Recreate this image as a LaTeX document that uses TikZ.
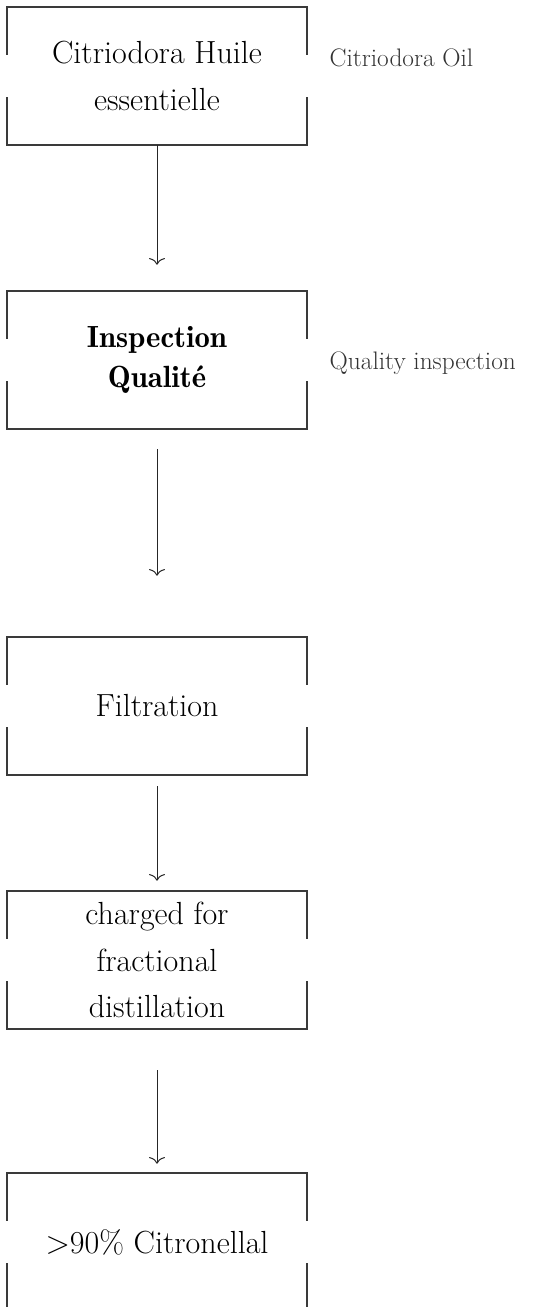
\documentclass[tikz,border=0pt]{standalone}
\usetikzlibrary{arrows.meta}
\definecolor{framegray}{HTML}{3A3A3A}
\definecolor{notegray}{HTML}{333333}
\tikzset{
  stage/.style={rectangle, minimum width=225pt, minimum height=103.5pt, inner sep=0pt,
    align=center, text=black, font=\fontsize{24}{35}\selectfont},
  note/.style={anchor=west, text=notegray, font=\fontsize{19}{23}\selectfont},
  frame/.style={draw=framegray, line width=1.5pt},
  flow/.style={draw=black!85, line width=0.75pt, -{To[length=5pt,width=12pt]}}
}
\begin{document}
\begin{tikzpicture}[x=0.75pt, y=-0.75pt]
            \useasboundingbox (0,0) rectangle (534,1307);
            \node[stage] (b1) at (157, 76) {Citriodora Huile\\essentielle};
            \node[stage, font=\fontsize{23}{30}\fontseries{b}\selectfont] (b2) at (157, 360) {Inspection\\Qualité};
            \node[stage] (b3) at (157, 706) {Filtration};
            \node[stage] (b4) at (157, 960) {charged for\\fractional\\distillation};
            \node[stage] (b5) at (157, 1242) {>90\% Citronellal};
            \node[note] (n1) at (325, 58) {Citriodora Oil};
            \node[note] (n2) at (325, 363) {Quality inspection};
            % open frames round each stage
            \foreach \b in {b1,b2,b3,b4,b5} {
              \draw[frame] ([yshift=-36pt]\b.north west) |- (\b.north east) -- ([yshift=-36pt]\b.north east);
              \draw[frame] ([yshift=36pt]\b.south west) |- (\b.south east) -- ([yshift=36pt]\b.south east);
            }
            \draw[flow, shorten >=19.5pt] (b1) -- (b2);
            \draw[flow, shorten <=15pt, shorten >=45.75pt] (b2) -- (b3);
            \draw[flow, shorten <=8.25pt, shorten >=7.5pt] (b3) -- (b4);
            \draw[flow, shorten <=30.75pt, shorten >=6.75pt] (b4) -- (b5);
         \end{tikzpicture}
\end{document}
